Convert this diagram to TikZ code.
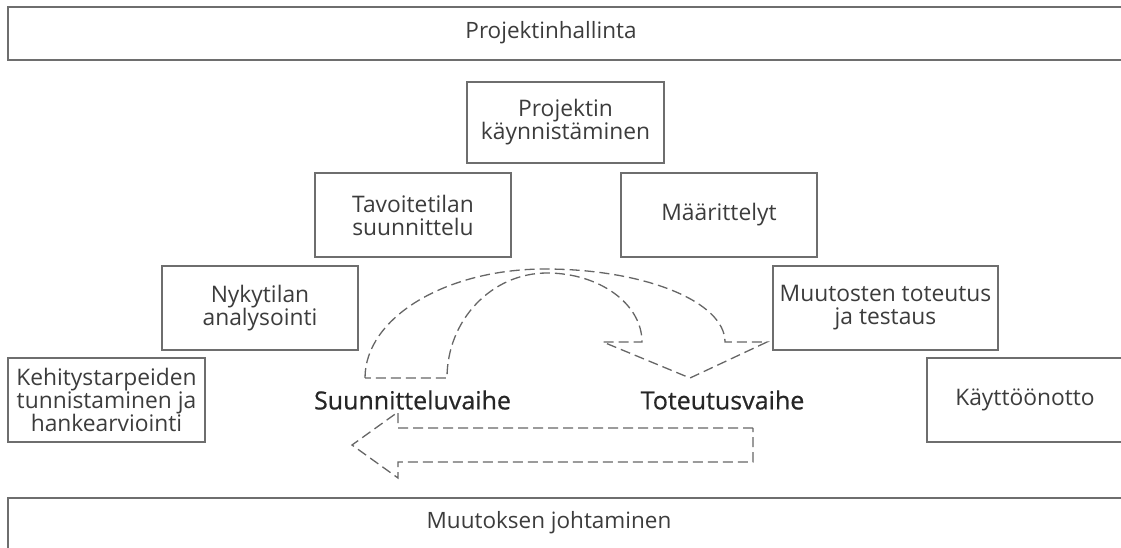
\documentclass[tikz,border=0pt]{standalone}
\usepackage{fontspec}
\setmainfont{Open Sans}
\newfontfamily\phasefont[FakeBold=0.6]{Open Sans}
\usepackage{xcolor}
\usetikzlibrary{positioning}
\definecolor{framegray}{HTML}{6E6E6E}
\definecolor{textgray}{HTML}{3C3C3C}

\begin{document}
\begin{tikzpicture}[x=1pt,y=-1pt,
    phasebox/.style={draw=framegray,line width=1.3pt,rectangle,minimum width=196pt,minimum height=84pt,
      align=center,inner sep=0pt,text=textgray,font=\fontsize{22.8}{23}\selectfont},
    bartext/.style={text=textgray,font=\fontsize{22.5}{23}\selectfont},
    phaselabel/.style={text=black!85,font=\phasefont\fontsize{25}{26}\selectfont},
    loopline/.style={draw=black!60,line width=1.3pt,dash pattern=on 10pt off 5pt,line join=miter}]
    \useasboundingbox (0,0) rectangle (1121,547);

    % Bars
    \draw[draw=framegray,line width=1.3pt] (8,7) rectangle (1140,60);
    \draw[draw=framegray,line width=1.3pt] (8,498) rectangle (1140,570);
    \node[bartext] (hallinta) at (551,33) {Projektinhallinta};
    \node[bartext] (johtaminen) at (549,523) {Muutoksen johtaminen};

    % Phases
    \node[phasebox,minimum width=197pt,minimum height=81pt] (kaynnistys) at (565.5,122.5) {Projektin\\käynnistäminen};
    \node[phasebox] (tavoite) at (413,215) {Tavoitetilan\\suunnittelu};
    \node[phasebox] (maarittely) at (719,215) {Määrittelyt};
    \node[phasebox] (nykytila) at (260,308) {Nykytilan\\analysointi};
    \node[phasebox,minimum width=225pt] (toteutus) at (885.5,308) {Muutosten toteutus\\ja testaus};
    \node[phasebox,minimum width=197pt] (kehitys) at (106.5,400) {Kehitystarpeiden\\tunnistaminen ja\\hankearviointi};
    \node[phasebox] (kaytto) at (1025,400) {Käyttöönotto};

    % Stages
    \node[phaselabel] (suunnittelu) at (412.5,400) {Suunnitteluvaihe};
    \node[phaselabel] (toteutusvaihe) at (722.5,400) {Toteutusvaihe};

    % Loop arrows
    \draw[loopline] (365,378) .. controls (365,317.8) and (445.6,269) .. (545,269)
        .. controls (644.4,269) and (725,301.7) .. (725,342)
        -- (767,342) -- (690,378) -- (603,342) -- (642,342)
        .. controls (642,303.9) and (599.5,273) .. (547,273)
        .. controls (491.8,273) and (447,320) .. (447,378) -- cycle;
    \draw[loopline] (753,428) -- (398,428) -- (398,412) -- (352,445) -- (398,478) -- (398,462) -- (753,462) -- cycle;
\end{tikzpicture}
\end{document}
